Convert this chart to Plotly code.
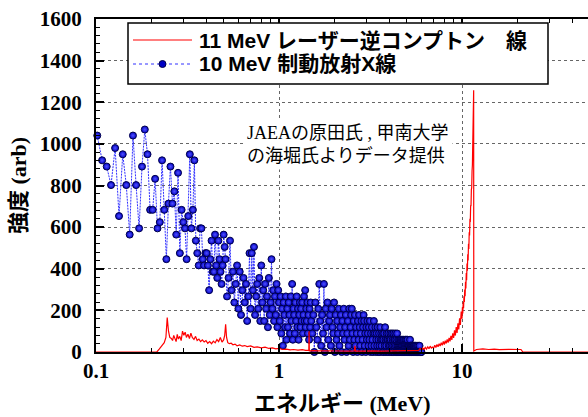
import numpy as np
import plotly.graph_objects as go

# ---------------------------------------------------------------
# 11 MeV laser inverse-Compton spectrum (energy in MeV, intensity arb)
# ---------------------------------------------------------------
compton_energy = [
    0.100, 0.215, 0.222, 0.230, 0.236, 0.241, 0.245, 0.249, 0.253, 0.258,
    0.262, 0.266, 0.270, 0.274, 0.278, 0.282, 0.287, 0.292, 0.297, 0.302,
    0.307, 0.312, 0.318, 0.324, 0.330, 0.336, 0.343, 0.350, 0.357, 0.365,
    0.373, 0.381, 0.390, 0.399, 0.408, 0.418, 0.428, 0.438, 0.448, 0.458,
    0.468, 0.478, 0.488, 0.498, 0.505, 0.511, 0.517, 0.525, 0.535, 0.548,
    0.560, 0.575, 0.590, 0.610, 0.630, 0.650, 0.670, 0.700, 0.730, 0.760,
    0.800, 0.840, 0.880, 0.920, 0.960, 1.000, 1.050, 1.100, 1.150, 1.200,
    1.270, 1.340, 1.400, 1.455, 1.460, 1.465, 1.550, 1.650, 1.800, 2.000,
    2.200, 2.400, 2.580, 2.600, 2.620, 2.800, 3.000, 3.300, 3.600, 4.000,
    4.400, 4.800, 5.100, 5.400, 5.700, 5.800, 5.900, 6.000, 6.100, 6.200,
    6.300, 6.400, 6.500, 6.600, 6.700, 6.800, 6.900, 7.000, 7.100, 7.200,
    7.300, 7.400, 7.500, 7.600, 7.700, 7.800, 7.900, 8.000, 8.100, 8.200,
    8.300, 8.400, 8.500, 8.600, 8.700, 8.800, 8.900, 9.000, 9.100, 9.200,
    9.300, 9.400, 9.500, 9.600, 9.700, 9.800, 9.900, 10.00, 10.05, 10.10,
    10.15, 10.20, 10.25, 10.30, 10.35, 10.40, 10.45, 10.50, 10.55, 10.60,
    10.65, 10.70, 10.75, 10.80, 10.85, 10.90, 10.95, 11.00, 11.05, 11.10,
    11.15, 11.20, 11.25, 11.30, 11.35, 11.40, 11.45, 11.50, 11.55, 11.58,
    11.60, 12.00, 13.00, 14.00, 15.00, 16.00, 18.00, 20.00, 21.00, 21.50,
    50.00,
]
compton_intensity = [
    0, 0, 15, 30, 45, 70, 165, 100, 70, 65,
    55, 80, 60, 50, 85, 62, 75, 55, 100, 80,
    95, 70, 85, 65, 90, 70, 60, 75, 55, 62,
    50, 58, 48, 55, 42, 50, 40, 52, 44, 60,
    50, 70, 48, 58, 80, 133, 70, 45, 40, 42,
    35, 38, 30, 34, 28, 31, 26, 29, 22, 25,
    20, 23, 17, 20, 15, 17, 12, 14, 10, 12,
    9, 11, 8, 9, 100, 6, 7, 5, 6, 4,
    5, 4, 5, 30, 4, 5, 4, 5, 4, 5,
    6, 7, 8, 10, 11, 8, 17, 10, 19, 12,
    22, 14, 25, 16, 28, 19, 24, 18, 32, 22,
    36, 25, 40, 29, 45, 32, 51, 36, 54, 41,
    61, 45, 68, 51, 78, 58, 90, 68, 104, 79,
    120, 92, 138, 108, 162, 130, 195, 160, 215, 185,
    240, 210, 268, 240, 300, 268, 338, 305, 380, 345,
    425, 390, 470, 440, 520, 495, 575, 560, 640, 625,
    705, 700, 780, 790, 870, 900, 1000, 1080, 1190, 1258,
    5, 12, 15, 12, 14, 11, 13, 10, 12, 0,
    0,
]

# ---------------------------------------------------------------
# 10 MeV bremsstrahlung X-ray spectrum, stored as uniform energy bins
# ---------------------------------------------------------------
BREMS_LOW_START, BREMS_LOW_STEP = 0.1016, 0.0064
brems_low = [
    1040, 921, 891, 802, 980, 653, 950, 802, 564, 1040,
    802, 594, 891, 1069, 950, 683, 683, 832, 594, 624,
    921, 683, 446, 713, 891, 713, 772, 564, 861, 475,
    683, 624, 594, 446, 653, 950, 594, 683, 921, 535,
    475, 416, 594, 594, 446, 416, 475, 475, 416, 297,
    446, 535, 386, 386, 564, 416, 356, 535, 446, 386,
    327, 416, 564, 505,
]

BREMS_MID_START, BREMS_MID_STEP = 0.51, 0.01
brems_mid = [
    446, 267, 356, 535, 297, 386, 238, 327, 416, 208,
    386, 178, 297, 356, 238, 327, 149, 267, 475, 208,
    475, 297, 505, 178, 267, 327, 208, 356, 149, 416,
    238, 297, 149, 327, 208, 267, 119, 356, 178, 238,
    446, 208, 297, 149, 267, 178, 327, 119, 297, 238,
    149, 267, 89, 208, 30, 238, 178, 119, 267, 59,
    208, 119, 238, 178, 89, 267, 149, 327, 59, 208,
    178, 89, 238, 149, 267, 119, 208, 59, 178, 238,
    119, 208, 149, 238, 89, 178, 267, 149, 297, 119,
    208, 149, 238, 89, 178, 59, 208, 119, 238, 149,
]

BREMS_HIGH_START, BREMS_HIGH_STEP = 1.52, 0.02
brems_high = [
    89, 178, 0, 238, 119, 59, 208, 327, 149, 30,
    178, 89, 327, 0, 208, 119, 238, 59, 149, 178,
    30, 208, 119, 89, 238, 0, 178, 59, 149, 89,
    208, 30, 119, 178, 0, 149, 89, 208, 59, 119,
    178, 0, 89, 149, 30, 208, 59, 119, 178, 208,
    89, 0, 149, 59, 178, 30, 119, 89, 0, 149,
    59, 178, 119, 30, 89, 149, 0, 59, 119, 178,
    149, 30, 89, 0, 119, 59, 149, 89, 30, 119,
    59, 149, 0, 89, 30, 119, 59, 0, 89, 149,
    30, 89, 119, 0, 59, 89, 30, 119, 0, 59,
    89, 30, 0, 119, 59, 89, 30, 59, 0, 89,
    59, 0, 89, 30, 119, 59, 0, 30, 89, 59,
    0, 59, 89, 30, 0, 59, 30, 89, 59, 0,
    30, 89, 0, 59, 30, 89, 0, 59, 30, 59,
    89, 0, 30, 59, 0, 89, 30, 0, 59, 30,
    0, 59, 30, 0, 59, 30, 59, 0, 30, 59,
    30, 0, 59, 30, 0, 59, 30, 0, 30, 59,
    0, 30, 59, 0, 30, 0, 59, 30, 0, 30,
    30, 0, 30, 0, 59, 30, 0, 30, 0, 30,
    0, 30, 0, 30, 0, 0, 30, 0, 30, 0,
    0, 30, 0, 0, 30, 0, 0, 0, 30, 0,
    0, 0, 30, 0, 0, 0, 0, 30, 0, 0,
    0, 0, 0, 0, 0,
]


def bin_energies(start, step, values):
    return np.round(start + step * np.arange(len(values)), 4)


brems_energy = np.concatenate([
    bin_energies(BREMS_LOW_START, BREMS_LOW_STEP, brems_low),
    bin_energies(BREMS_MID_START, BREMS_MID_STEP, brems_mid),
    bin_energies(BREMS_HIGH_START, BREMS_HIGH_STEP, brems_high),
])
brems_intensity = brems_low + brems_mid + brems_high

legend_labels = ["11 MeV レーザー逆コンプトン　線", "10 MeV 制動放射X線"]
note_text = "JAEAの原田氏 , 甲南大学<br>の海堀氏よりデータ提供"

# ---------------------------------------------------------------
# Figure
# ---------------------------------------------------------------
W, H = 588, 417
ML, MR, MT, MB = 96, 0, 19, 65
PW, PH = W - ML - MR, H - MT - MB
DECADE_PX = 183.0


def px(xp):
    return (xp - ML) / PW


def py(yp):
    return 1 - (yp - MT) / PH


BLUE = "#0000c4"
BLUE_EDGE = "#00004a"
BLUE_LINE = "#3030ff"
RED = "#ff0000"
SERIF = "Liberation Serif"
CJK = "Noto Sans CJK JP"

fig = go.Figure()

fig.add_trace(go.Scatter(
    x=brems_energy, y=brems_intensity, mode="lines+markers",
    name=legend_labels[1],
    line=dict(color=BLUE_LINE, width=1, dash="2px,1px"),
    marker=dict(size=7, color=BLUE,
                line=dict(color=BLUE_EDGE, width=1),
                gradient=dict(type="radial", color="#5252ff")),
    cliponaxis=False, showlegend=False,
))
fig.add_trace(go.Scatter(
    x=compton_energy, y=compton_intensity, mode="lines",
    name=legend_labels[0],
    line=dict(color=RED, width=1.2),
    showlegend=False,
))

tick_font = dict(family=SERIF, size=21, color="black", weight="bold")

x_minor = [0.2, 0.3, 0.4, 0.5, 0.6, 0.7, 0.8, 0.9,
           2, 3, 4, 5, 6, 7, 8, 9, 20, 30, 40]

fig.update_xaxes(
    type="log", range=[-1, -1 + PW / DECADE_PX],
    tickmode="array", tickvals=[0.1, 1, 10], ticktext=["0.1", "1", "10"],
    ticks="inside", ticklen=8, tickwidth=1.5, tickcolor="black",
    tickfont=tick_font, ticklabelstandoff=-1,
    showline=True, linewidth=2, linecolor="black", mirror="ticks",
    showgrid=True, gridcolor="#666666", gridwidth=1, griddash="dot",
    zeroline=False, automargin=False,
    minor=dict(tickmode="array", tickvals=x_minor, ticks="inside",
               ticklen=4, tickwidth=1, tickcolor="black", showgrid=False),
)
fig.update_yaxes(
    range=[0, 1600], tickmode="linear", tick0=0, dtick=200,
    ticks="inside", ticklen=8, tickwidth=1.5, tickcolor="black",
    tickfont=tick_font, ticklabelstandoff=8,
    showline=True, linewidth=2, linecolor="black", mirror=False,
    showgrid=True, gridcolor="#666666", gridwidth=1, griddash="dot",
    zeroline=False, automargin=False,
    minor=dict(dtick=40, ticks="inside", ticklen=4, tickwidth=1,
               tickcolor="black", showgrid=False),
    title=dict(
        text=f'<span style="font-family:{CJK}">強度</span> (arb)',
        font=dict(family=SERIF, size=22, color="black", weight="bold"),
        standoff=8,
    ),
)

# Legend box drawn in plot-area coordinates
row1_y, row2_y = py(40), py(64)
seg_x0, seg_x1 = px(133), px(192)
shapes = [
    dict(type="rect", xref="paper", yref="paper",
         x0=px(128), x1=px(548), y0=py(84), y1=py(23),
         fillcolor="white", line=dict(color="black", width=1.5), layer="above"),
    dict(type="line", xref="paper", yref="paper",
         x0=seg_x0, x1=seg_x1, y0=row1_y, y1=row1_y,
         line=dict(color=RED, width=1.2)),
    dict(type="line", xref="paper", yref="paper",
         x0=seg_x0, x1=seg_x1, y0=row2_y, y1=row2_y,
         line=dict(color=BLUE_LINE, width=1, dash="dot")),
    dict(type="circle", xref="paper", yref="paper",
         xsizemode="pixel", ysizemode="pixel",
         xanchor=(seg_x0 + seg_x1) / 2, yanchor=row2_y,
         x0=-3.5, x1=3.5, y0=-3.5, y1=3.5,
         fillcolor=BLUE, line=dict(color=BLUE_EDGE, width=1)),
]

legend_font = dict(family=f"Liberation Sans, {CJK}", size=21,
                   color="black", weight="bold")
annotations = [
    dict(text=legend_labels[0], xref="paper", yref="paper",
         x=px(197), y=py(41), xanchor="left", yanchor="middle",
         showarrow=False, font=legend_font),
    dict(text=legend_labels[1], xref="paper", yref="paper",
         x=px(197), y=py(64), xanchor="left", yanchor="middle",
         showarrow=False, font=legend_font),
    dict(text=note_text, xref="paper", yref="paper",
         x=px(348), y=py(144), xanchor="center", yanchor="middle",
         align="left", showarrow=False, bgcolor="white", borderpad=3,
         font=dict(family=f"{SERIF}, {CJK}", size=18, color="black")),
    # x-axis title
    dict(text=f'<span style="font-family:{CJK}">エネルギー</span> (MeV)',
         xref="paper", yref="paper", x=px(342), y=py(401),
         xanchor="center", yanchor="middle", showarrow=False,
         font=dict(family=SERIF, size=22, color="black", weight="bold")),
]

fig.update_layout(
    template="none",
    width=W, height=H,
    margin=dict(l=ML, r=MR, t=MT, b=MB),
    paper_bgcolor="white", plot_bgcolor="white",
    showlegend=False,
    shapes=shapes, annotations=annotations,
)

fig.write_html("out.html")
